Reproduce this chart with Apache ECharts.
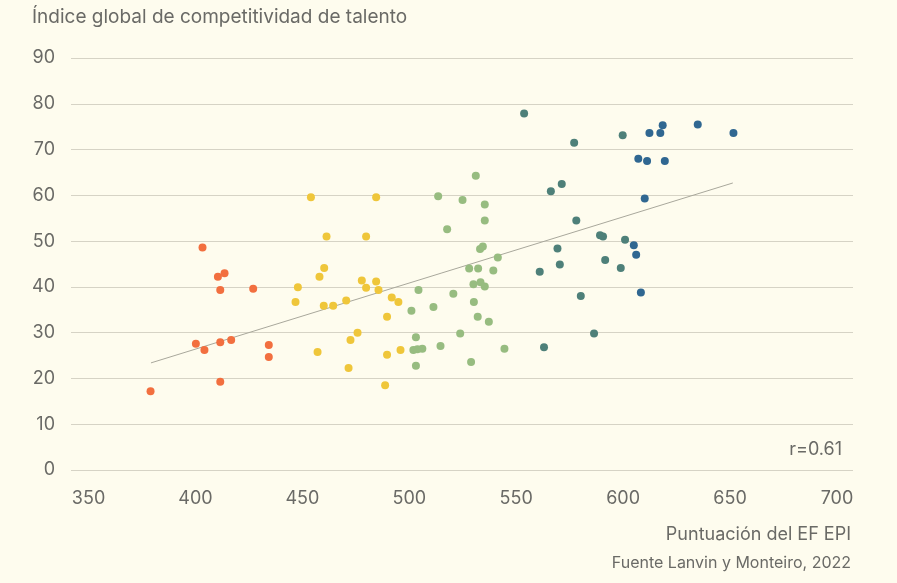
<!DOCTYPE html>
<html>
<head>
<meta charset="utf-8">
<script src="https://cdn.jsdelivr.net/npm/echarts@6/dist/echarts.min.js"></script>
<style>
  html, body { margin: 0; padding: 0; background: #fefcee; }
  #chart { width: 897px; height: 583px; }
</style>
</head>
<body>
<div id="chart"></div>
<script>
// puntos [EF EPI, índice de talento], agrupados por color
const naranja = [
  [403.3, 48.6], [410.5, 42.2], [413.6, 43.0], [411.6, 39.3], [427.0, 39.6],
  [400.2, 27.6], [404.2, 26.2], [411.6, 27.9], [416.7, 28.4], [434.3, 27.3],
  [434.3, 24.7], [411.6, 19.3], [379.0, 17.2]
]
const amarillo = [
  [454.0, 59.6], [484.5, 59.6], [461.3, 51.0], [479.8, 51.0], [460.2, 44.1],
  [458.0, 42.2], [447.9, 39.9], [446.8, 36.7], [460.0, 35.9], [464.4, 35.9],
  [470.5, 37.0], [477.8, 41.4], [484.5, 41.2], [479.8, 39.8], [485.6, 39.3],
  [491.8, 37.7], [494.9, 36.7], [489.6, 33.5], [475.8, 30.0], [472.5, 28.4],
  [457.1, 25.8], [471.6, 22.3], [489.6, 25.2], [495.9, 26.2], [488.7, 18.5]
]
const verde = [
  [531.1, 64.3], [513.5, 59.8], [524.9, 59.0], [535.3, 58.0], [535.3, 54.5],
  [517.7, 52.6], [533.1, 48.3], [534.4, 48.8], [541.4, 46.4], [528.0, 44.0],
  [532.2, 44.0], [539.3, 43.6], [530.0, 40.6], [533.3, 41.0], [535.3, 40.1],
  [504.3, 39.3], [520.6, 38.5], [501.0, 34.8], [511.3, 35.6], [530.2, 36.7],
  [532.0, 33.5], [537.2, 32.4], [503.1, 29.0], [523.8, 29.8], [501.9, 26.2],
  [503.8, 26.4], [506.1, 26.5], [514.6, 27.1], [544.5, 26.5], [503.1, 22.8],
  [528.9, 23.6]
]
const verdeAzul = [
  [553.7, 77.9], [577.1, 71.5], [599.8, 73.1], [566.2, 60.9], [571.3, 62.5],
  [578.1, 54.5], [569.3, 48.4], [589.2, 51.3], [590.6, 51.0], [600.9, 50.3],
  [570.4, 44.9], [561.0, 43.3], [591.6, 45.9], [598.9, 44.1], [580.2, 38.0],
  [586.4, 29.8], [563.0, 26.8]
]
const azul = [
  [607.1, 68.0], [611.2, 67.5], [619.5, 67.5], [612.3, 73.6], [617.4, 73.6],
  [618.5, 75.3], [634.9, 75.5], [651.6, 73.6], [610.1, 59.3], [605.0, 49.1],
  [606.1, 47.0], [608.3, 38.8]
]
// recta de tendencia (extremos)
const tendencia = [[379.2, 23.4], [651.3, 62.7]]
const xTicks = [350, 400, 450, 500, 550, 600, 650, 700]

const font = 'Inter, "Noto Sans", sans-serif'
const textColor = '#6a6a66'

const chart = echarts.init(document.getElementById('chart'))

function puntos(data, color) {
  return {
    type: 'scatter',
    data: data,
    symbolSize: 8,
    itemStyle: { color: color, opacity: 1 },
    z: 3,
    silent: true
  }
}

chart.setOption({
  backgroundColor: '#fefcee',
  animation: false,
  textStyle: { fontFamily: font },
  grid: { left: 71, right: 44, top: 58, bottom: 113 },
  xAxis: {
    type: 'value',
    min: 341.8,
    max: 707.5,
    axisLine: { show: false },
    axisTick: { show: false },
    splitLine: { show: false },
    axisLabel: {
      customValues: xTicks,
      color: textColor,
      fontSize: 18,
      margin: 20,
      fontFamily: font
    }
  },
  yAxis: {
    type: 'value',
    min: 0,
    max: 90,
    interval: 10,
    axisLine: { show: false },
    axisTick: { show: false },
    splitLine: { lineStyle: { color: '#d6d3c5', width: 1 } },
    axisLabel: { color: textColor, fontSize: 18, margin: 16, fontFamily: font }
  },
  graphic: [
    {
      type: 'text', left: 32, top: 8,
      style: { text: 'Índice global de competitividad de talento', fill: textColor, font: '19px ' + font }
    },
    {
      type: 'text', right: 55, top: 441,
      style: { text: 'r=0.61', fill: textColor, font: '18px ' + font }
    },
    {
      type: 'text', right: 46, top: 526,
      style: { text: 'Puntuación del EF EPI', fill: textColor, font: '18px ' + font }
    },
    {
      type: 'text', right: 46, top: 555,
      style: { text: 'Fuente Lanvin y Monteiro, 2022', fill: textColor, font: '16px ' + font }
    }
  ],
  series: [
    {
      type: 'line',
      data: tendencia,
      symbol: 'none',
      lineStyle: { color: '#a9a89c', width: 1 },
      z: 2,
      silent: true
    },
    puntos(naranja, '#f26f3f'),
    puntos(amarillo, '#efc63a'),
    puntos(verde, '#97bc80'),
    puntos(verdeAzul, '#4e8079'),
    puntos(azul, '#306791')
  ]
})
</script>
</body>
</html>
